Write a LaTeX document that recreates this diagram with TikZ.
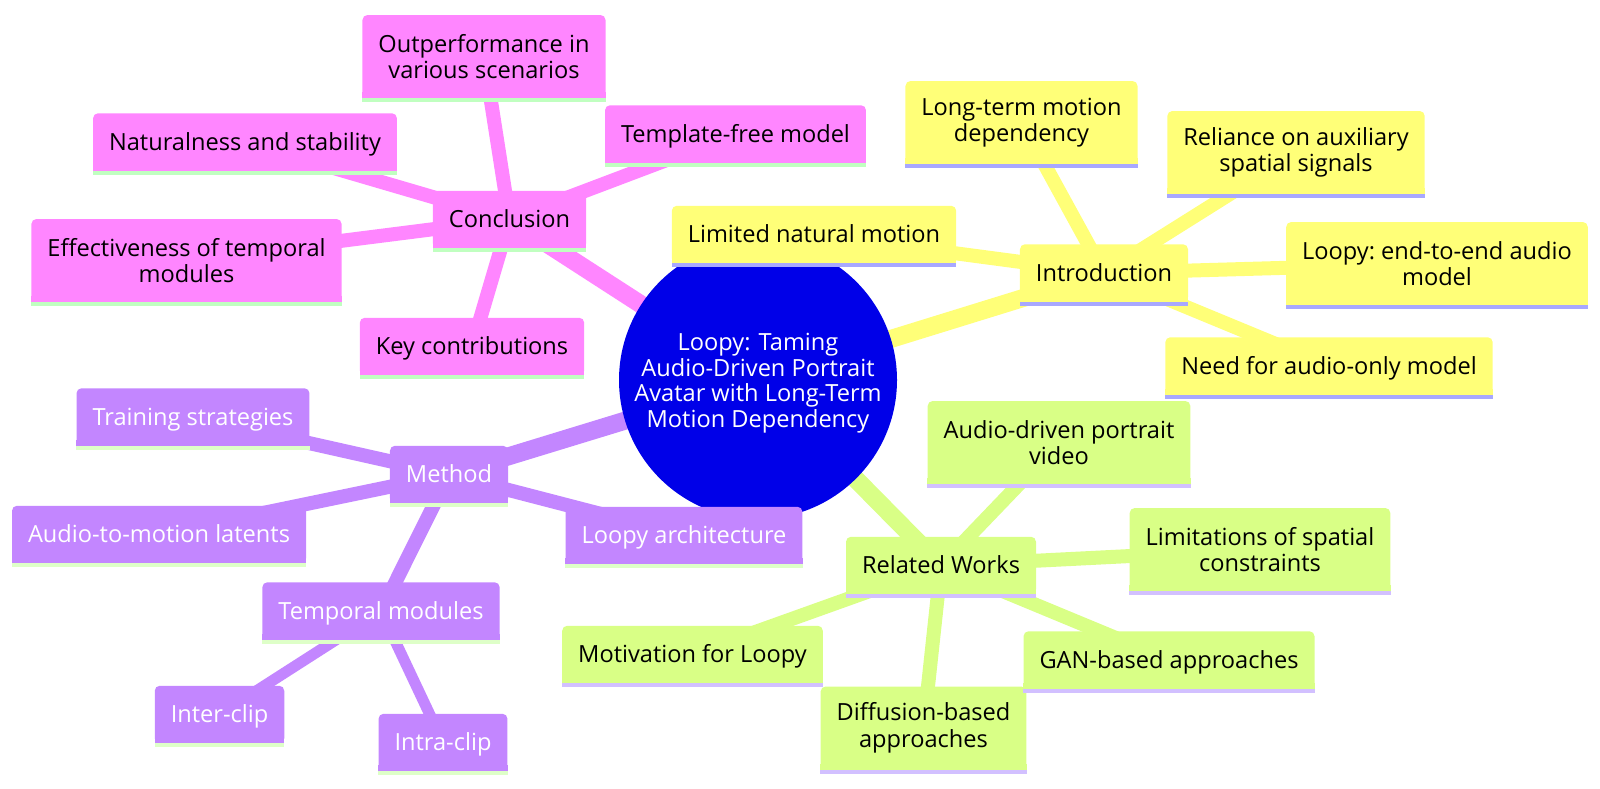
\documentclass[tikz,border=0pt]{standalone}
\usepackage{fontspec}
\setmainfont{Open Sans}
\usepackage{tikz}
\usetikzlibrary{backgrounds}

\definecolor{rootblue}{HTML}{0000E8}
\definecolor{yelbox}{HTML}{FFFF78}
\definecolor{yelline}{HTML}{A8A8FF}
\definecolor{grnbox}{HTML}{D9FF86}
\definecolor{grnline}{HTML}{D2C0FF}
\definecolor{purbox}{HTML}{C386FF}
\definecolor{purline}{HTML}{DEFFC8}
\definecolor{pinkbox}{HTML}{FF86FF}
\definecolor{pinkline}{HTML}{C0FFC0}

\tikzset{
  box/.style={rounded corners=5pt, minimum height=57.5pt, inner xsep=16pt, inner ysep=2pt,
    text height=16.8pt, text depth=0pt,
    align=center, font=\fontsize{23.6}{26.5}\selectfont\frenchspacing},
  twoline/.style={minimum height=83pt, text height={}, text depth={}},
  introbox/.style={box, fill=yelbox, text=black},
  relbox/.style={box, fill=grnbox, text=black},
  methbox/.style={box, fill=purbox, text=white},
  conclbox/.style={box, fill=pinkbox, text=black},
  rootedge/.style={line width=18pt},
  branch/.style={line width=14pt},
  twig/.style={line width=11pt}
}

\begin{document}
\begin{tikzpicture}[x=1pt, y=-1pt]
    \useasboundingbox (0,0) rectangle (1600,788);

    % centre
    \node[circle, fill=rootblue, minimum size=278pt, inner sep=0pt] (root) at (758,380) {};
    \node[text=white, align=center, font=\fontsize{23.6}{25.5}\selectfont] (roottext) at (758,383)
        {Loopy: Taming\\Audio-Driven Portrait\\Avatar with Long-Term\\Motion Dependency};

    % Introduction
    \node[introbox] (intro) at (1104,273) {Introduction};
    \node[introbox, twoline] (longterm) at (1021.5,122.5) {Long-term motion\\dependency};
    \node[introbox, twoline] (reliance) at (1296,152.5) {Reliance on auxiliary\\spatial signals};
    \node[introbox, twoline] (endtoend) at (1437,263.5) {Loopy: end-to-end audio\\model};
    \node[introbox] (needaudio) at (1329,366) {Need for audio-only model};
    \node[introbox] (limited) at (814,234.5) {Limited natural motion};

    % Related Works
    \node[relbox] (related) at (941,565.5) {Related Works};
    \node[relbox, twoline] (audiodriven) at (1059,442.5) {Audio-driven portrait\\video};
    \node[relbox, twoline] (limitations) at (1260,549.5) {Limitations of spatial\\constraints};
    \node[relbox] (ganbased) at (1169,660) {GAN-based approaches};
    \node[relbox, twoline] (diffusion) at (923.5,728) {Diffusion-based\\approaches};
    \node[relbox] (motivation) at (692.5,654.5) {Motivation for Loopy};

    % Method
    \node[methbox] (method) at (449,474.5) {Method};
    \node[methbox] (training) at (193,417) {Training strategies};
    \node[methbox] (audiomotion) at (159,534.5) {Audio-to-motion latents};
    \node[methbox] (temporal) at (381,611) {Temporal modules};
    \node[methbox] (interclip) at (219.5,714.5) {Inter-clip};
    \node[methbox] (intraclip) at (443,742.5) {Intra-clip};
    \node[methbox] (looparch) at (684,535.5) {Loopy architecture};

    % Conclusion
    \node[conclbox] (concl) at (509.5,219.5) {Conclusion};
    \node[conclbox, twoline] (outperf) at (484,56.5) {Outperformance in\\various scenarios};
    \node[conclbox] (template) at (735.5,134) {Template-free model};
    \node[conclbox] (natural) at (245,142) {Naturalness and stability};
    \node[conclbox, twoline] (effect) at (186.5,260.5) {Effectiveness of temporal\\modules};
    \node[conclbox] (keycontrib) at (472,346.5) {Key contributions};

    % square bottoms and under-strips
    \foreach \n in {intro, longterm, reliance, endtoend, needaudio, limited} {
        \fill[yelbox] ([yshift=6pt]\n.south west) rectangle (\n.south east);
        \fill[yelline] (\n.south west) rectangle ([yshift=-4pt]\n.south east);
    }
    \foreach \n in {related, audiodriven, limitations, ganbased, diffusion, motivation} {
        \fill[grnbox] ([yshift=6pt]\n.south west) rectangle (\n.south east);
        \fill[grnline] (\n.south west) rectangle ([yshift=-4pt]\n.south east);
    }
    \foreach \n in {method, training, audiomotion, temporal, interclip, intraclip, looparch} {
        \fill[purbox] ([yshift=6pt]\n.south west) rectangle (\n.south east);
        \fill[purline] (\n.south west) rectangle ([yshift=-4pt]\n.south east);
    }
    \foreach \n in {concl, outperf, template, natural, effect, keycontrib} {
        \fill[pinkbox] ([yshift=6pt]\n.south west) rectangle (\n.south east);
        \fill[pinkline] (\n.south west) rectangle ([yshift=-4pt]\n.south east);
    }

    % edges
    \begin{scope}[on background layer]
        \draw[rootedge, yelbox] (root.center) -- (intro.center);
        \draw[rootedge, grnbox] (root.center) -- (related.center);
        \draw[rootedge, purbox] (root.center) -- (method.center);
        \draw[rootedge, pinkbox] (root.center) -- (concl.center);
        \foreach \k in {longterm, reliance, endtoend, needaudio, limited}
            \draw[branch, yelbox] (intro.center) -- (\k.center);
        \foreach \k in {audiodriven, limitations, ganbased, diffusion, motivation}
            \draw[branch, grnbox] (related.center) -- (\k.center);
        \foreach \k in {training, audiomotion, temporal, looparch}
            \draw[branch, purbox] (method.center) -- (\k.center);
        \foreach \k in {interclip, intraclip}
            \draw[twig, purbox] (temporal.center) -- (\k.center);
        \foreach \k in {outperf, template, natural, effect, keycontrib}
            \draw[branch, pinkbox] (concl.center) -- (\k.center);
    \end{scope}
\end{tikzpicture}
\end{document}
